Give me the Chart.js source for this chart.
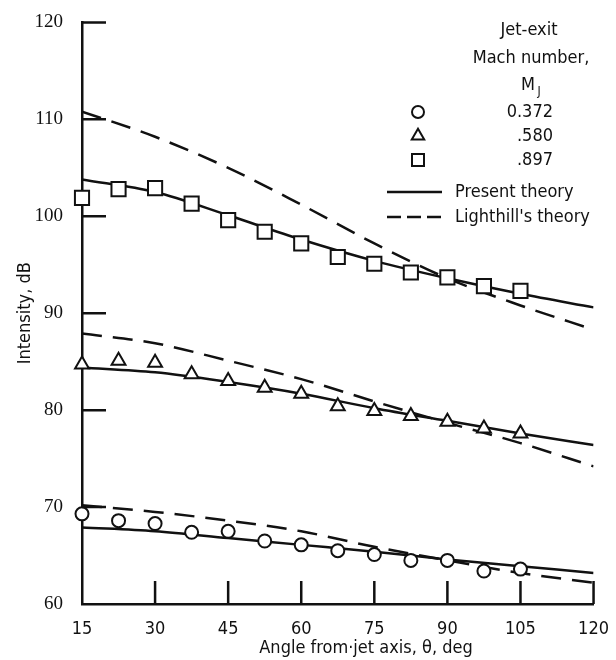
<!DOCTYPE html>
<html>
<head>
<meta charset="utf-8">
<script src="https://cdn.jsdelivr.net/npm/chart.js@4.4.1/dist/chart.umd.min.js"></script>
<style>
  html, body { margin: 0; padding: 0; background: #fff; }
  #wrap { width: 616px; height: 660px; }
</style>
</head>
<body>
<div id="wrap"><canvas id="jetChart" width="616" height="660"></canvas></div>
<script>
// measured points, angle from jet axis (deg)
const angles = [15, 22.5, 30, 37.5, 45, 52.5, 60, 67.5, 75, 82.5, 90, 97.5, 105];
const mach372 = [69.3, 68.6, 68.3, 67.4, 67.5, 66.5, 66.1, 65.5, 65.1, 64.5, 64.5, 63.4, 63.6];
const mach580 = [84.7, 85.1, 84.9, 83.7, 83.0, 82.3, 81.7, 80.4, 79.9, 79.4, 78.8, 78.1, 77.6];
const mach897 = [101.9, 102.8, 102.9, 101.3, 99.6, 98.4, 97.2, 95.8, 95.1, 94.2, 93.7, 92.8, 92.3];

// theory curves
const theoryAngles = [15, 30, 45, 60, 75, 90, 105, 120];
const present372 = [67.9, 67.5, 66.8, 66.1, 65.4, 64.6, 63.9, 63.2];
const present580 = [84.4, 83.9, 82.9, 81.7, 80.2, 78.9, 77.6, 76.4];
const present897 = [103.8, 102.5, 100.1, 97.6, 95.4, 93.6, 92.0, 90.6];
const lighthill372 = [70.2, 69.5, 68.6, 67.5, 65.9, 64.5, 63.2, 62.2];
const lighthill580 = [87.9, 86.9, 85.1, 83.2, 80.9, 78.7, 76.6, 74.2];
const lighthill897 = [110.8, 108.2, 105.0, 101.2, 97.2, 93.6, 90.8, 88.3];

const xTicks = [15, 30, 45, 60, 75, 90, 105, 120];
const yTicks = [60, 70, 80, 90, 100, 110, 120];

const machLabels = ['0.372', '.580', '.897'];
const markerStyles = ['circle', 'triangle', 'rect'];

const INK = '#111';
const narrow = "'Liberation Sans Narrow', 'DejaVu Sans Condensed', 'Liberation Sans', sans-serif";
const serif = "'Liberation Serif', 'DejaVu Serif', serif";

function pts(xs, ys) {
  return xs.map((x, i) => ({ x: x, y: ys[i] }));
}

function theory(ys, dashed) {
  return {
    data: pts(theoryAngles, ys),
    showLine: true,
    borderColor: INK,
    borderWidth: 2.5,
    borderDash: dashed ? [20, 11] : [],
    pointRadius: 0,
    cubicInterpolationMode: 'monotone',
    fill: false,
    order: 2
  };
}

function measured(ys, style, r) {
  return {
    data: pts(angles, ys),
    showLine: false,
    clip: false,
    pointStyle: style,
    pointRadius: r,
    pointBackgroundColor: '#fff',
    pointBorderColor: INK,
    pointBorderWidth: 2,
    order: 1
  };
}

function marker(ctx, style, x, y, r) {
  ctx.beginPath();
  if (style === 'circle') {
    ctx.arc(x, y, r, 0, Math.PI * 2);
  } else if (style === 'triangle') {
    const rr = r * 1.2;
    ctx.moveTo(x, y - rr);
    ctx.lineTo(x + rr * 0.866, y + rr * 0.5);
    ctx.lineTo(x - rr * 0.866, y + rr * 0.5);
    ctx.closePath();
  } else {
    ctx.rect(x - r, y - r, 2 * r, 2 * r);
  }
  ctx.fillStyle = '#fff';
  ctx.fill();
  ctx.stroke();
}

// inward ticks, x title and the legend block
const decorations = {
  id: 'decorations',
  afterDraw(chart) {
    const ctx = chart.ctx;
    const xs = chart.scales.x, ys = chart.scales.y;
    const area = chart.chartArea;
    ctx.save();
    ctx.strokeStyle = INK;
    ctx.lineWidth = 2.5;
    ctx.beginPath();
    xTicks.forEach(v => {
      if (v === 15) return;
      const px = xs.getPixelForValue(v);
      ctx.moveTo(px, area.bottom);
      ctx.lineTo(px, area.bottom - 23);
    });
    yTicks.forEach(v => {
      if (v === 60) return;
      const py = ys.getPixelForValue(v);
      ctx.moveTo(area.left, py);
      ctx.lineTo(area.left + 24, py);
    });
    ctx.stroke();

    ctx.fillStyle = INK;
    ctx.textBaseline = 'middle';
    ctx.textAlign = 'center';
    ctx.font = '18px ' + narrow;
    ctx.fillText('Angle from\u00b7jet axis, \u03b8, deg', 366, 648);

    // legend
    ctx.fillText('Jet-exit', 529, 30);
    ctx.fillText('Mach number,', 531, 58);
    ctx.fillText('M', 528, 85);
    ctx.font = '12px ' + narrow;
    ctx.fillText('J', 539, 92);

    ctx.font = '18px ' + narrow;
    ctx.textAlign = 'right';
    ctx.lineWidth = 2;
    const rows = [112, 136, 160];
    rows.forEach((y, i) => {
      marker(ctx, markerStyles[i], 418, y, 6);
      ctx.fillStyle = INK;
      ctx.fillText(machLabels[i], 553, y);
    });

    ctx.lineWidth = 2.5;
    ctx.beginPath();
    ctx.moveTo(387, 192);
    ctx.lineTo(442, 192);
    ctx.stroke();
    ctx.setLineDash([14, 6]);
    ctx.beginPath();
    ctx.moveTo(387, 217);
    ctx.lineTo(442, 217);
    ctx.stroke();
    ctx.setLineDash([]);
    ctx.textAlign = 'left';
    ctx.fillText('Present theory', 455, 192);
    ctx.fillText("Lighthill's theory", 455, 217);
    ctx.restore();
  }
};

new Chart(document.getElementById('jetChart'), {
  type: 'scatter',
  data: {
    datasets: [
      theory(present372, false),
      theory(present580, false),
      theory(present897, false),
      theory(lighthill372, true),
      theory(lighthill580, true),
      theory(lighthill897, true),
      measured(mach372, 'circle', 6.5),
      measured(mach580, 'triangle', 8),
      measured(mach897, 'rect', 10)
    ]
  },
  options: {
    responsive: false,
    animation: false,
    devicePixelRatio: 1,
    layout: { padding: { top: 16, right: 18, left: 0, bottom: 0 } },
    plugins: { legend: { display: false }, tooltip: { enabled: false } },
    scales: {
      x: {
        type: 'linear',
        min: 15,
        max: 120,
        afterBuildTicks: s => { s.ticks = xTicks.map(v => ({ value: v })); },
        afterFit: s => { s.height = 56; },
        grid: { display: false },
        border: { display: true, color: INK, width: 2.5 },
        ticks: { color: INK, padding: 7, maxRotation: 0, font: { family: narrow, size: 18 } }
      },
      y: {
        type: 'linear',
        min: 60,
        max: 120,
        afterBuildTicks: s => { s.ticks = yTicks.map(v => ({ value: v })); },
        afterFit: s => { s.width = 82; },
        grid: { display: false },
        border: { display: true, color: INK, width: 2.5 },
        ticks: { color: INK, padding: 11, font: { family: serif, size: 19 } },
        title: {
          display: true,
          text: 'Intensity, dB',
          color: INK,
          padding: { top: 15, bottom: 0 },
          font: { family: narrow, size: 18 }
        }
      }
    }
  },
  plugins: [decorations]
});
</script>
</body>
</html>
